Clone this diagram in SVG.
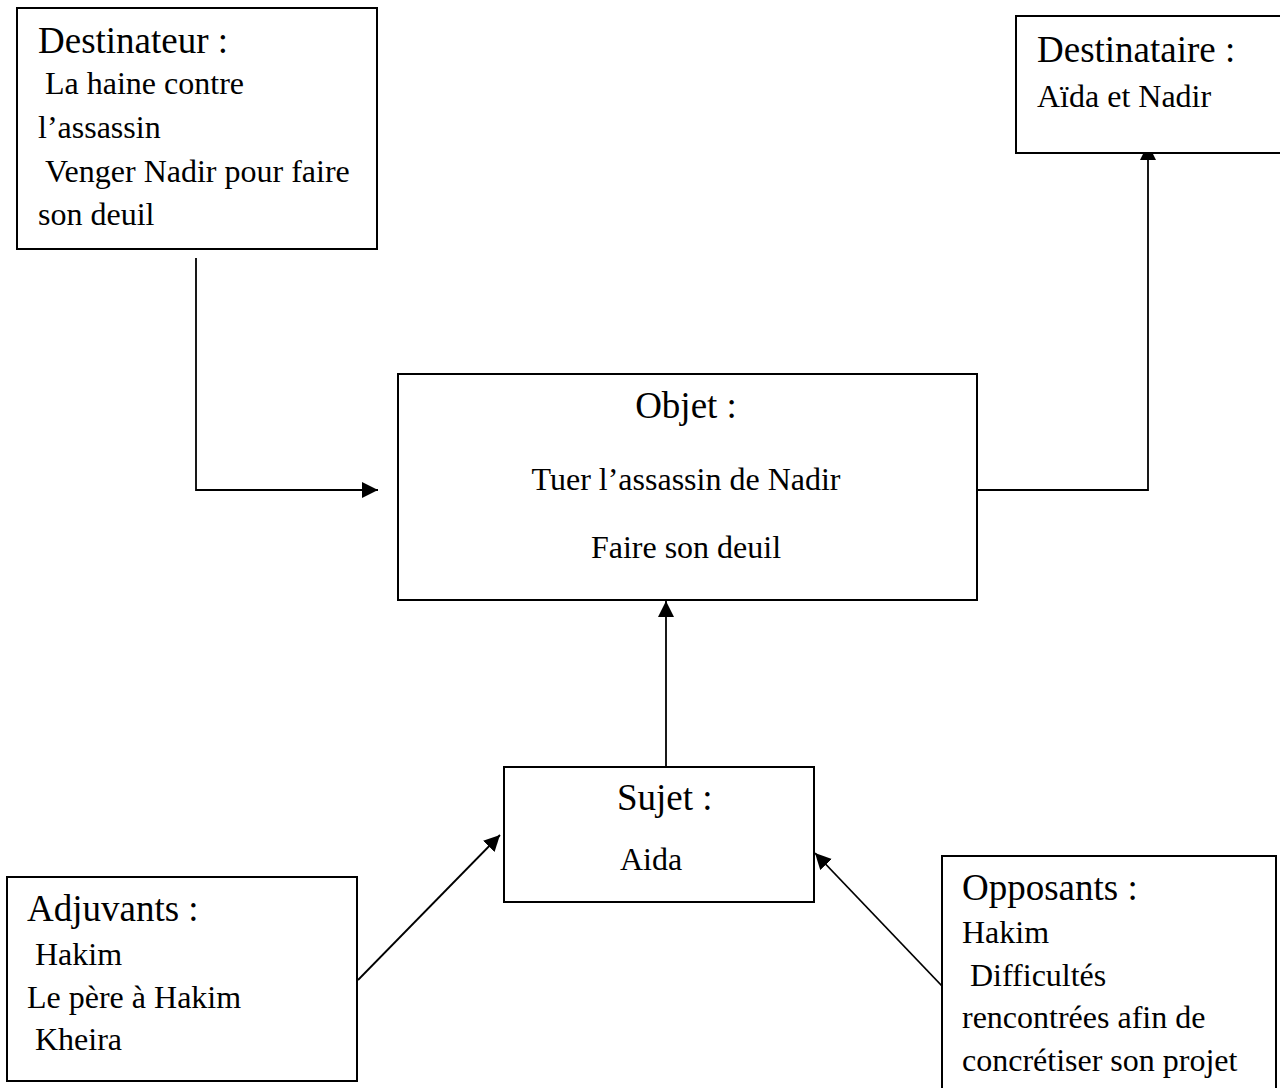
<svg xmlns="http://www.w3.org/2000/svg" width="1280" height="1088" viewBox="0 0 1280 1088">
<style>
.box{fill:#fff;stroke:#000;stroke-width:2}
.t{font-family:"Liberation Serif","Times New Roman",serif;fill:#000}
.h{font-size:37px}
.b{font-size:32px}
.c{text-anchor:middle}
.con{fill:none;stroke:#000;stroke-width:1.8}
</style>
<defs>
<marker id="ah" markerUnits="userSpaceOnUse" markerWidth="17" markerHeight="17" refX="16" refY="8" orient="auto">
<path d="M0,0 L16,8 L0,16 z" fill="#000"/>
</marker>
</defs>
<rect width="1280" height="1088" fill="#fff"/>
<g id="connectors">
<path class="con" d="M196,258 V490 H378" marker-end="url(#ah)"/>
<path class="con" d="M977,490 H1148 V144" marker-end="url(#ah)"/>
<path class="con" d="M666,767 V601" marker-end="url(#ah)"/>
<path class="con" d="M358,980 L500,835" marker-end="url(#ah)"/>
<path class="con" d="M942,986 L815,853" marker-end="url(#ah)"/>
</g>
<g id="destinateur">
<rect class="box" x="17" y="8" width="360" height="241"/>
<text class="t h" x="38" y="53">Destinateur :</text>
<text class="t b" x="45" y="94">La haine contre</text>
<text class="t b" x="38" y="138">l’assassin</text>
<text class="t b" x="45" y="182">Venger Nadir pour faire</text>
<text class="t b" x="38" y="225">son deuil</text>
</g>
<g id="destinataire">
<rect class="box" x="1016" y="16" width="280" height="137"/>
<text class="t h" x="1037" y="62">Destinataire :</text>
<text class="t b" x="1037" y="107">Aïda et Nadir</text>
</g>
<g id="objet">
<rect class="box" x="398" y="374" width="579" height="226"/>
<text class="t h c" x="686" y="418">Objet :</text>
<text class="t b c" x="686" y="490">Tuer l’assassin de Nadir</text>
<text class="t b c" x="686" y="558">Faire son deuil</text>
</g>
<g id="sujet">
<rect class="box" x="504" y="767" width="310" height="135"/>
<text class="t h" x="617" y="810">Sujet :</text>
<text class="t b" x="620" y="870">Aida</text>
</g>
<g id="adjuvants">
<rect class="box" x="7" y="877" width="350" height="204"/>
<text class="t h" x="27" y="921">Adjuvants :</text>
<text class="t b" x="35" y="965">Hakim</text>
<text class="t b" x="27" y="1008">Le père à Hakim</text>
<text class="t b" x="35" y="1050">Kheira</text>
</g>
<g id="opposants">
<rect class="box" x="942" y="856" width="334" height="250"/>
<text class="t h" x="962" y="900">Opposants :</text>
<text class="t b" x="962" y="943">Hakim</text>
<text class="t b" x="970" y="986">Difficultés</text>
<text class="t b" x="962" y="1028">rencontrées afin de</text>
<text class="t b" x="962" y="1071">concrétiser son projet</text>
</g>
</svg>
